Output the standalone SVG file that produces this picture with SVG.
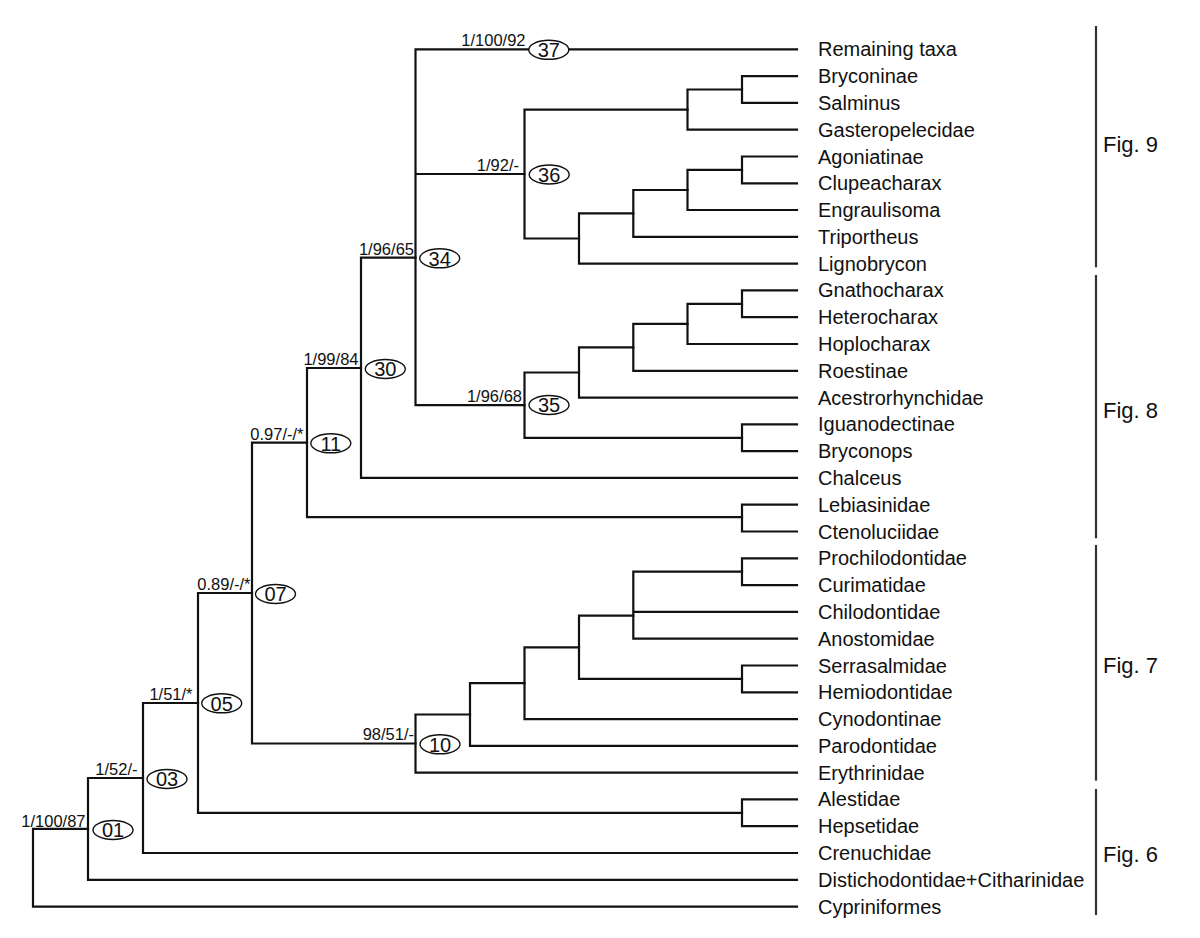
<svg xmlns="http://www.w3.org/2000/svg" width="1200" height="938" viewBox="0 0 1200 938">
<style>
.e{fill:none;stroke:#111;stroke-width:2.2;stroke-linejoin:miter;stroke-linecap:square}
.bar{stroke:#333;stroke-width:2.2}
.ov{fill:#fff;stroke:#111;stroke-width:1.4}
.n{font-family:"Liberation Sans",Arial,sans-serif;font-size:20px;fill:#111;text-anchor:middle}
.s{font-family:"Liberation Sans",Arial,sans-serif;font-size:16.5px;fill:#111;text-anchor:end}
.t{font-family:"Liberation Sans",Arial,sans-serif;font-size:20px;fill:#111}
.f{font-family:"Liberation Sans",Arial,sans-serif;font-size:22px;fill:#111}
</style>
<rect width="1200" height="938" fill="#fff"/>
<g id="connectors" class="e">
<path d="M88 828.9 H33 V906.6 H797"/>
<path d="M143 778 H88 V879.8 H797"/>
<path d="M198 703 H143 V853 H797"/>
<path d="M252 593 H198 V812.8 H742"/>
<path d="M797 799.4 H742 V826.2 H797"/>
<path d="M307 442.7 H252 V743.5 H415.5"/>
<path d="M470 714.5 H415.5 V772.6 H797"/>
<path d="M524.5 683.2 H470 V745.8 H797"/>
<path d="M579 647.3 H524.5 V719.1 H797"/>
<path d="M633.3 615.7 H579 V678.9 H742"/>
<path d="M797 665.5 H742 V692.3 H797"/>
<path d="M742 571.7 H633.3 V638.7 H797 M633.3 611.9 H797"/>
<path d="M797 558.3 H742 V585.1 H797"/>
<path d="M361 368 H307 V517.1 H742"/>
<path d="M797 504.7 H742 V531.5 H797"/>
<path d="M415.5 257.7 H361 V477.9 H797"/>
<path d="M797 49.3 H415.5 V405.1 H524.5 M415.5 174 H524.5"/>
<path d="M687.5 109.6 H524.5 V238.5 H579"/>
<path d="M742 89.5 H687.5 V129.7 H797"/>
<path d="M797 76.1 H742 V102.9 H797"/>
<path d="M633.3 213.4 H579 V263.6 H797"/>
<path d="M687.5 190 H633.3 V236.8 H797"/>
<path d="M742 169.9 H687.5 V210 H797"/>
<path d="M797 156.5 H742 V183.3 H797"/>
<path d="M579 372.5 H524.5 V437.8 H742"/>
<path d="M797 424.4 H742 V451.2 H797"/>
<path d="M633.3 347.4 H579 V397.6 H797"/>
<path d="M687.5 323.9 H633.3 V370.8 H797"/>
<path d="M742 303.8 H687.5 V344 H797"/>
<path d="M797 290.4 H742 V317.2 H797"/>
</g>
<g id="node01"><text class="s" x="85.5" y="826.5">1/100/87</text><ellipse class="ov" cx="113" cy="830" rx="20" ry="9.5"/><text class="n" x="113" y="837.3">01</text></g>
<g id="node03"><text class="s" x="137.5" y="775">1/52/-</text><ellipse class="ov" cx="167" cy="779" rx="20" ry="9.5"/><text class="n" x="167" y="786.3">03</text></g>
<g id="node05"><text class="s" x="192.5" y="700">1/51/*</text><ellipse class="ov" cx="221.7" cy="703.3" rx="20" ry="9.5"/><text class="n" x="221.7" y="710.6">05</text></g>
<g id="node07"><text class="s" x="250.5" y="590">0.89/-/*</text><ellipse class="ov" cx="275.5" cy="594" rx="20" ry="9.5"/><text class="n" x="275.5" y="601.3">07</text></g>
<g id="node10"><text class="s" x="414" y="740">98/51/-</text><ellipse class="ov" cx="440" cy="744.3" rx="20" ry="9.5"/><text class="n" x="440" y="751.6">10</text></g>
<g id="node11"><text class="s" x="303.5" y="440">0.97/-/*</text><ellipse class="ov" cx="330.8" cy="443.3" rx="20" ry="9.5"/><text class="n" x="330.8" y="450.6">11</text></g>
<g id="node30"><text class="s" x="358.5" y="365">1/99/84</text><ellipse class="ov" cx="385.3" cy="369" rx="20" ry="9.5"/><text class="n" x="385.3" y="376.3">30</text></g>
<g id="node34"><text class="s" x="414" y="254.5">1/96/65</text><ellipse class="ov" cx="439.7" cy="258.3" rx="20" ry="9.5"/><text class="n" x="439.7" y="265.6">34</text></g>
<g id="node35"><text class="s" x="522" y="402">1/96/68</text><ellipse class="ov" cx="549" cy="405" rx="20" ry="9.5"/><text class="n" x="549" y="412.3">35</text></g>
<g id="node36"><text class="s" x="519" y="171">1/92/-</text><ellipse class="ov" cx="549.2" cy="174.5" rx="20" ry="9.5"/><text class="n" x="549.2" y="181.8">36</text></g>
<g id="node37"><text class="s" x="525.5" y="46">1/100/92</text><ellipse class="ov" cx="548.8" cy="49.8" rx="20" ry="9.5"/><text class="n" x="548.8" y="57.1">37</text></g>
<g id="taxa" class="t">
<text x="818" y="56.3">Remaining taxa</text>
<text x="818" y="83.1">Bryconinae</text>
<text x="818" y="109.9">Salminus</text>
<text x="818" y="136.7">Gasteropelecidae</text>
<text x="818" y="163.5">Agoniatinae</text>
<text x="818" y="190.3">Clupeacharax</text>
<text x="818" y="217">Engraulisoma</text>
<text x="818" y="243.8">Triportheus</text>
<text x="818" y="270.6">Lignobrycon</text>
<text x="818" y="297.4">Gnathocharax</text>
<text x="818" y="324.2">Heterocharax</text>
<text x="818" y="351">Hoplocharax</text>
<text x="818" y="377.8">Roestinae</text>
<text x="818" y="404.6">Acestrorhynchidae</text>
<text x="818" y="431.4">Iguanodectinae</text>
<text x="818" y="458.2">Bryconops</text>
<text x="818" y="484.9">Chalceus</text>
<text x="818" y="511.7">Lebiasinidae</text>
<text x="818" y="538.5">Ctenoluciidae</text>
<text x="818" y="565.3">Prochilodontidae</text>
<text x="818" y="592.1">Curimatidae</text>
<text x="818" y="618.9">Chilodontidae</text>
<text x="818" y="645.7">Anostomidae</text>
<text x="818" y="672.5">Serrasalmidae</text>
<text x="818" y="699.3">Hemiodontidae</text>
<text x="818" y="726.1">Cynodontinae</text>
<text x="818" y="752.8">Parodontidae</text>
<text x="818" y="779.6">Erythrinidae</text>
<text x="818" y="806.4">Alestidae</text>
<text x="818" y="833.2">Hepsetidae</text>
<text x="818" y="860">Crenuchidae</text>
<text x="818" y="886.8">Distichodontidae+Citharinidae</text>
<text x="818" y="913.6">Cypriniformes</text>
</g>
<g id="fig9"><line class="bar" x1="1096" y1="26" x2="1096" y2="267.3"/><text class="f" x="1103" y="151.7">Fig. 9</text></g>
<g id="fig8"><line class="bar" x1="1096" y1="275" x2="1096" y2="538.3"/><text class="f" x="1103" y="418.3">Fig. 8</text></g>
<g id="fig7"><line class="bar" x1="1096" y1="545" x2="1096" y2="780.7"/><text class="f" x="1103" y="672.7">Fig. 7</text></g>
<g id="fig6"><line class="bar" x1="1096" y1="789" x2="1096" y2="915"/><text class="f" x="1103" y="861.7">Fig. 6</text></g>
</svg>
